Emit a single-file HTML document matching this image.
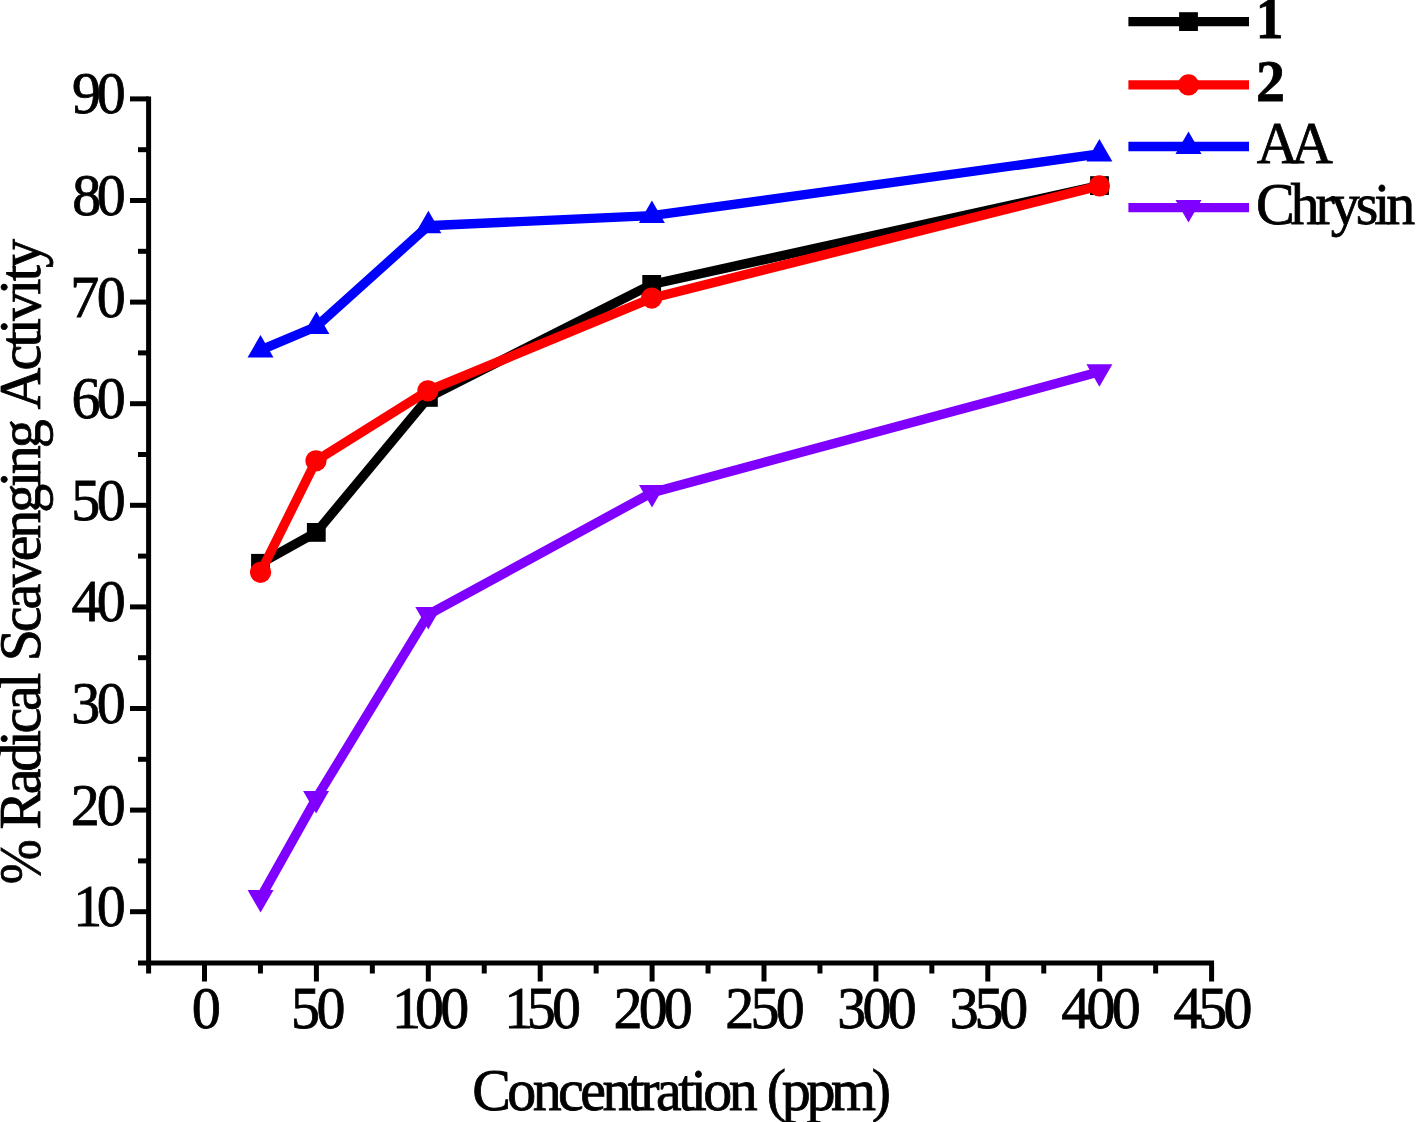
<!DOCTYPE html>
<html><head><meta charset="utf-8"><title>Radical Scavenging Activity</title>
<style>
html,body{margin:0;padding:0;background:#fff;}
body{width:1417px;height:1122px;overflow:hidden;font-family:"Liberation Serif",serif;}
svg{display:block;}
text{font-family:"Liberation Serif",serif;fill:#000;}
</style></head><body>
<svg width="1417" height="1122" viewBox="0 0 1417 1122">
<rect width="1417" height="1122" fill="#fff"/>

<g stroke="#000" stroke-width="5" fill="none" stroke-linecap="butt">
<line x1="148.6" y1="96.40" x2="148.6" y2="973.5"/>
<line x1="138" y1="963.05" x2="1214" y2="963.05"/>
<line x1="130" y1="911.70" x2="148.6" y2="911.70"/>
<line x1="130" y1="810.10" x2="148.6" y2="810.10"/>
<line x1="130" y1="708.50" x2="148.6" y2="708.50"/>
<line x1="130" y1="606.90" x2="148.6" y2="606.90"/>
<line x1="130" y1="505.30" x2="148.6" y2="505.30"/>
<line x1="130" y1="403.70" x2="148.6" y2="403.70"/>
<line x1="130" y1="302.10" x2="148.6" y2="302.10"/>
<line x1="130" y1="200.50" x2="148.6" y2="200.50"/>
<line x1="130" y1="98.90" x2="148.6" y2="98.90"/>
<line x1="138" y1="860.90" x2="148.6" y2="860.90"/>
<line x1="138" y1="759.30" x2="148.6" y2="759.30"/>
<line x1="138" y1="657.70" x2="148.6" y2="657.70"/>
<line x1="138" y1="556.10" x2="148.6" y2="556.10"/>
<line x1="138" y1="454.50" x2="148.6" y2="454.50"/>
<line x1="138" y1="352.90" x2="148.6" y2="352.90"/>
<line x1="138" y1="251.30" x2="148.6" y2="251.30"/>
<line x1="138" y1="149.70" x2="148.6" y2="149.70"/>
<line x1="204.50" y1="963.05" x2="204.50" y2="981.5"/>
<line x1="316.40" y1="963.05" x2="316.40" y2="981.5"/>
<line x1="428.30" y1="963.05" x2="428.30" y2="981.5"/>
<line x1="540.20" y1="963.05" x2="540.20" y2="981.5"/>
<line x1="652.10" y1="963.05" x2="652.10" y2="981.5"/>
<line x1="764.00" y1="963.05" x2="764.00" y2="981.5"/>
<line x1="875.90" y1="963.05" x2="875.90" y2="981.5"/>
<line x1="987.80" y1="963.05" x2="987.80" y2="981.5"/>
<line x1="1099.70" y1="963.05" x2="1099.70" y2="981.5"/>
<line x1="1211.60" y1="963.05" x2="1211.60" y2="981.5"/>
<line x1="260.45" y1="963.05" x2="260.45" y2="973.5"/>
<line x1="372.35" y1="963.05" x2="372.35" y2="973.5"/>
<line x1="484.25" y1="963.05" x2="484.25" y2="973.5"/>
<line x1="596.15" y1="963.05" x2="596.15" y2="973.5"/>
<line x1="708.05" y1="963.05" x2="708.05" y2="973.5"/>
<line x1="819.95" y1="963.05" x2="819.95" y2="973.5"/>
<line x1="931.85" y1="963.05" x2="931.85" y2="973.5"/>
<line x1="1043.75" y1="963.05" x2="1043.75" y2="973.5"/>
<line x1="1155.65" y1="963.05" x2="1155.65" y2="973.5"/>
</g>
<g font-size="59.8" stroke="#000" stroke-width="0.8">
<text transform="translate(0,926.10) scale(0.97,1)" x="75.56 99.86">10</text>
<text transform="translate(0,824.50) scale(0.97,1)" x="73.07 99.86">20</text>
<text transform="translate(0,722.90) scale(0.97,1)" x="73.57 99.86">30</text>
<text transform="translate(0,621.30) scale(0.97,1)" x="73.66 99.86">40</text>
<text transform="translate(0,519.70) scale(0.97,1)" x="73.35 99.86">50</text>
<text transform="translate(0,418.10) scale(0.97,1)" x="73.78 99.86">60</text>
<text transform="translate(0,316.50) scale(0.97,1)" x="72.51 99.86">70</text>
<text transform="translate(0,214.90) scale(0.97,1)" x="74.39 99.86">80</text>
<text transform="translate(0,113.30) scale(0.97,1)" x="74.32 99.86">90</text>
<text transform="translate(191.85,1027.90) scale(0.9759,1)">0</text>
<text transform="translate(290.95,1027.90) scale(0.97,1)" letter-spacing="-3.594">50</text>
<text transform="translate(0,1027.90) scale(0.97,1)" x="404.22 427.80 453.89">100</text>
<text transform="translate(0,1027.90) scale(0.97,1)" x="519.79 543.04 569.14">150</text>
<text transform="translate(613.58,1027.90) scale(0.97,1)" letter-spacing="-3.979">200</text>
<text transform="translate(725.28,1027.90) scale(0.97,1)" letter-spacing="-3.825">250</text>
<text transform="translate(837.37,1027.90) scale(0.97,1)" letter-spacing="-3.868">300</text>
<text transform="translate(949.77,1027.90) scale(0.97,1)" letter-spacing="-4.332">350</text>
<text transform="translate(1061.35,1027.90) scale(0.97,1)" letter-spacing="-3.965">400</text>
<text transform="translate(1173.15,1027.90) scale(0.97,1)" letter-spacing="-3.965">450</text>
<text transform="translate(472.19,1109.80) scale(0.97,1)" letter-spacing="-3.698">Concentration</text>
<text transform="translate(766.87,1109.80) scale(0.97,1)" letter-spacing="-4.496">(ppm)</text>
<text transform="translate(39.8,884.15) rotate(-90) scale(0.9019,1)">%</text>
<text transform="translate(39.8,829.50) rotate(-90) scale(0.97,1)" letter-spacing="-3.458">Radical</text>
<text transform="translate(39.8,661.22) rotate(-90) scale(0.97,1)" letter-spacing="-3.282">Scavenging</text>
<text transform="translate(39.8,409.53) rotate(-90) scale(0.97,1)" letter-spacing="-2.874">Activity</text>
<text transform="translate(1255.82,38.40) scale(0.9262,1)" font-weight="bold">1</text>
<text transform="translate(1255.93,101.30) scale(0.9685,1)" font-weight="bold">2</text>
<text transform="translate(1256.77,162.70) scale(0.97,1)" letter-spacing="-7.886">AA</text>
<text transform="translate(1255.89,224.20) scale(0.97,1)" letter-spacing="-4.166">Chrysin</text>
</g>
<polyline points="260.50,563.30 316.30,532.40 428.40,397.40 651.70,284.40 1099.50,185.60" fill="none" stroke="#000000" stroke-width="9.4" stroke-linejoin="miter" stroke-linecap="butt"/>
<rect x="251.10" y="553.90" width="18.8" height="18.8" fill="#000000"/>
<rect x="306.90" y="523.00" width="18.8" height="18.8" fill="#000000"/>
<rect x="419.00" y="388.00" width="18.8" height="18.8" fill="#000000"/>
<rect x="642.30" y="275.00" width="18.8" height="18.8" fill="#000000"/>
<rect x="1090.10" y="176.20" width="18.8" height="18.8" fill="#000000"/>
<polyline points="260.60,572.30 316.00,460.80 427.90,390.80 651.70,298.10 1099.40,185.90" fill="none" stroke="#ff0000" stroke-width="9.4" stroke-linejoin="miter" stroke-linecap="butt"/>
<circle cx="260.60" cy="572.30" r="10.6" fill="#ff0000"/>
<circle cx="316.00" cy="460.80" r="10.6" fill="#ff0000"/>
<circle cx="427.90" cy="390.80" r="10.6" fill="#ff0000"/>
<circle cx="651.70" cy="298.10" r="10.6" fill="#ff0000"/>
<circle cx="1099.40" cy="185.90" r="10.6" fill="#ff0000"/>
<polyline points="260.50,350.10 316.40,326.60 428.40,225.70 651.90,215.60 1099.40,153.90" fill="none" stroke="#0000ff" stroke-width="9.4" stroke-linejoin="miter" stroke-linecap="butt"/>
<polygon points="260.50,335.10 273.49,357.60 247.51,357.60" fill="#0000ff"/>
<polygon points="316.40,311.60 329.39,334.10 303.41,334.10" fill="#0000ff"/>
<polygon points="428.40,210.70 441.39,233.20 415.41,233.20" fill="#0000ff"/>
<polygon points="651.90,200.60 664.89,223.10 638.91,223.10" fill="#0000ff"/>
<polygon points="1099.40,138.90 1112.39,161.40 1086.41,161.40" fill="#0000ff"/>
<polyline points="260.60,897.60 316.10,798.60 428.30,614.60 652.00,492.60 1099.40,371.80" fill="none" stroke="#8000ff" stroke-width="9.4" stroke-linejoin="miter" stroke-linecap="butt"/>
<polygon points="260.60,912.60 273.59,890.10 247.61,890.10" fill="#8000ff"/>
<polygon points="316.10,813.60 329.09,791.10 303.11,791.10" fill="#8000ff"/>
<polygon points="428.30,629.60 441.29,607.10 415.31,607.10" fill="#8000ff"/>
<polygon points="652.00,507.60 664.99,485.10 639.01,485.10" fill="#8000ff"/>
<polygon points="1099.40,386.80 1112.39,364.30 1086.41,364.30" fill="#8000ff"/>
<line x1="1128.4" y1="21.6" x2="1249.0" y2="21.6" stroke="#000000" stroke-width="9.4"/>
<rect x="1179.10" y="12.20" width="18.8" height="18.8" fill="#000000"/>
<line x1="1128.4" y1="84.9" x2="1249.0" y2="84.9" stroke="#ff0000" stroke-width="9.4"/>
<circle cx="1188.50" cy="84.90" r="10.6" fill="#ff0000"/>
<line x1="1128.4" y1="146.5" x2="1249.0" y2="146.5" stroke="#0000ff" stroke-width="9.4"/>
<polygon points="1188.50,131.50 1201.49,154.00 1175.51,154.00" fill="#0000ff"/>
<line x1="1128.4" y1="207.6" x2="1249.0" y2="207.6" stroke="#8000ff" stroke-width="9.4"/>
<polygon points="1188.50,222.60 1201.49,200.10 1175.51,200.10" fill="#8000ff"/>
</svg></body></html>
